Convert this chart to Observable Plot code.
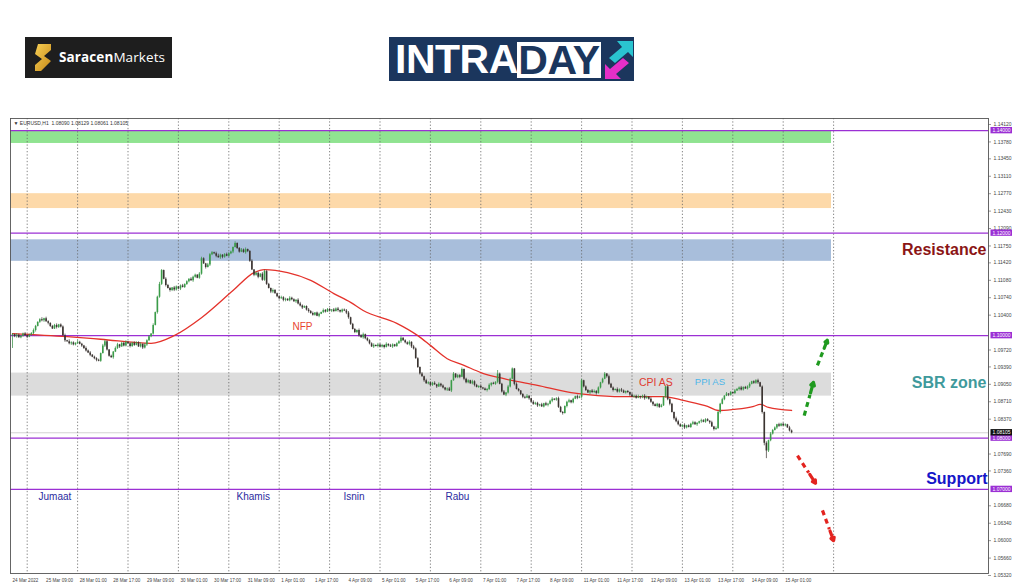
<!DOCTYPE html>
<html><head><meta charset="utf-8">
<script src="https://cdn.jsdelivr.net/npm/d3@7"></script>
<script src="https://cdn.jsdelivr.net/npm/@observablehq/plot@0.6"></script>
<style>
body{margin:0;background:#fff;width:1024px;height:587px;position:relative;overflow:hidden;font-family:"Liberation Sans",Arial,sans-serif}
#logo1{position:absolute;left:25px;top:37px;width:147px;height:41px;background:#1e1e1e}
#logo1 svg{position:absolute;left:10px;top:7px}
#logo1 .t{position:absolute;left:34px;top:0;line-height:41px;color:#fff;font-family:"Open Sans",sans-serif;font-size:13.5px;letter-spacing:0.1px}
#logo1 .t b{font-weight:700}
#logo2{position:absolute;left:389px;top:37px;width:245px;height:44px;background:#1b365d}
#logo2 .intra{position:absolute;left:6px;top:0;line-height:44px;color:#fff;font-weight:700;font-size:41px;letter-spacing:-0.5px}
#logo2 .day{position:absolute;left:128px;top:5px;width:84px;height:36px;background:#fff;color:#1b365d;font-weight:700;font-size:41px;line-height:37px;text-align:center;letter-spacing:-0.5px}
#logo2 svg{position:absolute;left:214px;top:2px}
#chart{position:absolute;left:0;top:110px}
</style></head><body>
<div id="logo1">
<svg width="16" height="27" viewBox="0 0 16 27"><defs><linearGradient id="gd" x1="0" y1="0" x2="1" y2="1"><stop offset="0" stop-color="#f7cf55"/><stop offset="1" stop-color="#c78a18"/></linearGradient></defs>
<polygon points="3,0 16,0 16,6 9,12 16,17 6,27 0,27 0,21 7,15 0,10" fill="url(#gd)"/></svg>
<div class="t"><b>Saracen</b>Markets</div>
</div>
<div id="logo2">
<div class="intra">INTRA</div>
<div class="day">DAY</div>
<svg width="32" height="42" viewBox="0 0 32 42">
<polygon points="14,2 30,2 30,18 25,13 12,24 6,19 19,8" fill="#2ac4d0"/>
<polygon points="18,40 2,40 2,25 7,30 20,19 26,24 13,35" fill="#e52fc8"/>
</svg>
</div>
<div id="chart"></div>
<script>
// ---- data (prices in pips above 1.0000) ----
const closes = [1002,998,1001,996,999,1003,1000,997,1001,1004,
1010,1018,1026,1031,1029,1033,1027,1024,1018,1013,1020,1016,1021,1017,1000,990,
988,984,986,982,985,987,983,980,975,970,966,962,958,955,952,950,
965,980,988,972,960,957,968,975,982,978,985,980,987,984,979,985,
981,986,978,983,976,982,990,998,1003,1020,1045,1075,1100,1127,
1110,1098,1092,1088,1093,1089,1095,1091,1097,1094,1100,
1105,1110,1107,1114,1118,1112,1120,1150,1140,1133,1138,1158,1162,1160,1155,
1152,1157,1153,1158,1155,1160,1163,1172,1180,1170,1163,1167,1162,1168,1164,
1145,1128,1118,1122,1114,1120,1108,1125,1100,1092,1085,1088,1082,
1076,1072,1074,1069,1071,1068,1073,1070,1066,1069,1062,1058,1054,1057,1050,1047,
1043,1040,1044,1038,1042,1045,1049,1046,1051,1048,1050,1047,1052,1049,1046,1050,1048,1044,
1035,1022,1012,1006,1010,1000,996,1002,994,990,984,978,981,
979,982,978,981,977,983,980,978,982,979,984,988,995,990,986,983,987,978,974,
955,938,925,920,912,906,908,903,907,904,900,905,902,898,894,896,892,
912,925,918,922,919,934,915,908,912,906,910,903,899,901,898,896,893,895,
903,907,905,909,925,905,890,884,888,900,915,935,905,895,892,
885,880,878,882,877,870,866,868,863,865,861,867,864,866,872,876,874,877,
860,850,848,862,870,873,869,876,881,878,880,912,
900,893,888,892,889,891,887,898,908,915,925,920,905,898,893,895,890,894,
892,888,891,889,884,880,882,878,881,879,882,877,880,876,
870,865,862,866,860,863,880,900,875,866,850,838,832,
826,822,825,820,824,821,827,830,826,829,832,834,831,836,833,830,822,817,819,
850,866,875,882,886,884,889,887,892,895,898,894,899,896,900,905,910,907,912,908,900,
850,790,775,795,808,815,820,826,823,827,824,826,820,814,810.5];
const hiWick = [2,1,3,2,1,2,3,1,2,2, 3,2,1,2,4,1,3,2,1,2, 2,3,1,2,2,3,1,4,2,2, 1,3,2,2,1,3,2,3,1,2,
2,2,1,3,3,2,1,2,1,3, 3,1,2,2,3,1,2,2,3,2, 2,3,1,3,2,2,1,3,1,2, 4,2,1,3,2,2,1,3,2,1,
2,3,1,2,1,3,2,2,1,3, 3,2,1,3,2,2,1,3,4,2, 1,2,3,2,2,1,3,1,2,3, 2,3,1,2,3,1,2,2,1,3,
3,2,2,1,3,2,1,2,3,2, 2,1,3,2,2,1,3,3,2,1, 1,3,2,3,1,2,2,1,3,2, 2,2,1,3,2,3,1,2,2,3,
3,1,2,2,1,3,2,3,1,2, 2,2,3,1,3,2,2,1,3,1, 3,2,1,2,2,3,1,2,2,3, 1,3,2,2,1,3,1,3,2,2,
2,3,1,3,2,2,1,2,3,1, 3,1,2,2,3,1,2,2,1,3, 2,2,1,3,1,2,2,3,1,2, 1,7,2,2,3,1,3,2,2,1,
3,2,1,2,2,3,1,1,3,2, 2,1,3,1,3,2,2,3,1,2, 3,2,2,1,2,3,1,2,1,3, 2,3,1,2,2,1,3,3,2,2,
1,2,3,1,3,2,2,1,3,2, 3,2,1,2,1,3,2,2,3,1, 2,3,2,1,3,1,2,2,1,3, 1,2,3,2,2,1,3,3,2,1,
3,1,2,2,3,2,1,1,3,2, 2,2,1,3,1,3,2,2,3,1, 3,1,2,1,3,2,2,3,1,2, 2,3,1,2,2,3,1,2,1,3,
1,3,2,2,1,3,2,2,2,1, 3,2];
const loWick = [25,2,3,1,2,2,1,3,1,2, 2,3,1,2,2,3,1,3,2,1, 1,3,2,2,1,3,1,2,3,2, 2,2,1,3,2,2,1,3,1,2,
3,1,2,1,3,2,2,1,3,1, 2,3,1,2,2,1,3,2,2,1, 1,2,3,2,3,1,2,2,1,3, 2,2,1,3,1,3,2,3,2,1,
3,1,2,2,2,1,3,2,1,2, 2,1,3,1,3,2,2,3,1,3, 3,2,1,2,2,3,1,2,2,1, 1,3,2,2,1,3,2,3,1,2,
2,2,1,3,3,1,2,2,1,3, 3,1,2,2,1,3,2,2,3,1, 2,3,1,2,2,1,3,1,2,2, 1,2,3,2,1,3,2,2,1,3,
3,2,1,2,2,3,1,3,2,2, 2,1,3,1,3,2,2,3,1,2, 1,3,2,2,1,3,1,2,2,3, 3,2,1,2,2,1,3,1,2,2,
2,1,3,1,3,2,2,3,1,3, 1,2,2,3,1,3,2,2,1,2, 3,1,2,2,2,1,3,2,3,1, 2,3,1,2,1,3,2,2,1,3,
1,2,2,3,2,1,3,1,2,2, 3,2,1,2,2,3,1,3,1,2, 2,1,3,1,3,2,2,2,1,3, 1,3,2,2,1,3,2,2,3,1,
2,2,1,3,2,1,3,1,2,2, 3,1,2,2,3,1,2,2,1,3, 2,3,1,2,2,3,1,3,2,1, 1,2,2,3,1,3,2,2,1,2,
3,2,1,2,2,1,3,2,3,1, 2,1,3,1,3,2,2,3,1,2, 1,3,2,2,2,1,3,2,2,1, 2,3,1,2,2,3,1,3,5,15,
3,2,2,1,3,2,1,2,2,1, 2,2];
const maBar = [0,26,42,66,77,90,105,115,120,131,142,153,161,167,183,193,199,207,215,223,234,250,266,274,290,310,320,331,336,343,353,356,360,371];
const maPip = [1004,998,993,985,1000,1035,1088,1123,1129,1123,1108,1082,1065,1049,1024,1000,981,955,942,928,916,903,889,885,881,881,873,862,854,856,862,866,860,854];
const daySeparatorBars = [7,31,55,79,103,127,151,175,199,223,247,271,295,319,343,367,391];
const timeLabels = ["24 Mar 2022","25 Mar 09:00","28 Mar 01:00","28 Mar 17:00","29 Mar 09:00","30 Mar 01:00","30 Mar 17:00","31 Mar 09:00","1 Apr 01:00","1 Apr 17:00","4 Apr 09:00","5 Apr 01:00","5 Apr 17:00","6 Apr 09:00","7 Apr 01:00","7 Apr 17:00","8 Apr 09:00","11 Apr 01:00","11 Apr 17:00","12 Apr 09:00","13 Apr 01:00","13 Apr 17:00","14 Apr 09:00","15 Apr 01:00"];
const priceTickLabels = ["1.14120","1.13780","1.13450","1.13110","1.12770","1.12430","1.12090","1.11750","1.11420","1.11080","1.10740","1.10400","1.09720","1.09390","1.09050","1.08710","1.08370","1.07690","1.07360","1.06680","1.06340","1.06000","1.05660","1.05320"];
const levelLabels = ["1.14000","1.12000","1.10000","1.08000","1.07000"];
const bidLabel = "1.08105";
const zoneTop = [1.1400,1.1277,1.1187,1.0927];
const zoneBottom = [1.1375,1.1248,1.1145,1.0882];
const zoneEndBar = 390;
const dayNames = ["Jumaat","Khamis","Isnin","Rabu"];
const dayNameBars = [12.4,106.7,157.6,206.2];
const dayNamePrice = 1.0686;
const upArrows = [{x1:377,y1:1.0844,x2:381.4,y2:1.0909},{x1:383.3,y1:1.0942,x2:388,y2:1.0991}];
const downArrows = [{x1:373.8,y1:1.0766,x2:382.4,y2:1.0712},{x1:385.7,y1:1.0659,x2:391,y2:1.0600}];
const header = "▼ EURUSD,H1  1.08090 1.08129 1.08061 1.08105";

// ---- build tables ----
const P = p => 1 + p / 10000;
const bars = closes.map((c, i) => {
  const o = i ? closes[i - 1] : 1000;
  return {i, open: P(o), close: P(c), high: P(Math.max(o, c) + hiWick[i]), low: P(Math.min(o, c) - loWick[i]), up: c >= o};
});
const ma = maBar.map((b, k) => ({i: b, v: P(maPip[k])}));

// pixel geometry of the MT4 window
const W = 1024, H = 477, bar0 = 12, pxBar = 2.1;
const pxToBar = px => (px - bar0) / pxBar;
const pyToPrice = py => 1.1412 - (py + 110 - 124) / 5125;
const leftB = pxToBar(10), axisB = pxToBar(988);
const topP = pyToPrice(8), botP = pyToPrice(463);

const levels = levelLabels.map(Number);
const zones = zoneTop.map((t, k) => ({t, b: zoneBottom[k], k}));
const zoneFill = ["#90e391", "#fdd9a9", "#a8bedb", "#dcdcdc"];
const bid = +bidLabel;
const boxH = 0.00062;
const boxX1 = pxToBar(990.5), boxX2 = pxToBar(1012);

function shaft(a){const f=0.62;return {x1:a.x1,y1:a.y1,x2:a.x1+(a.x2-a.x1)*f,y2:a.y1+(a.y2-a.y1)*f};}
function head(a){const f=0.68;return {x1:a.x1+(a.x2-a.x1)*f,y1:a.y1+(a.y2-a.y1)*f,x2:a.x2,y2:a.y2};}

const chart = Plot.plot({
  width: W, height: H,
  marginLeft: 10, marginRight: 36, marginTop: 8, marginBottom: 14,
  x: {type: "linear", domain: [leftB, axisB], axis: null},
  y: {type: "linear", domain: [botP, topP], axis: null},
  style: {fontFamily: "'Liberation Sans', Arial, sans-serif", background: "transparent", overflow: "visible"},
  marks: [
    Plot.rect(zones, {x1: () => leftB, x2: () => zoneEndBar, y1: "t", y2: "b", fill: d => zoneFill[d.k]}),
    Plot.ruleY([bid], {x1: leftB, x2: axisB, stroke: "#c8c8c8", strokeWidth: 0.8}),
    Plot.ruleX(daySeparatorBars, {y1: topP, y2: botP, stroke: "#666", strokeWidth: 0.8, strokeDasharray: "1.3,2"}),
    Plot.ruleY(levels, {x1: leftB, x2: axisB, stroke: "#9b30d4", strokeWidth: 1.4}),
    Plot.line(ma, {x: "i", y: "v", stroke: "#e4322b", strokeWidth: 1.3, curve: "monotone-x"}),
    Plot.ruleX(bars, {x: "i", y1: "low", y2: "high", stroke: d => d.up ? "#2f8a3c" : "#3b3431", strokeWidth: 0.7}),
    Plot.ruleX(bars, {x: "i", y1: "open", y2: "close", stroke: d => d.up ? "#3a9c48" : "#3b3431", strokeWidth: 1.6}),
    Plot.frame({stroke: "#555", strokeWidth: 0.9}),
    Plot.text([header], {frameAnchor: "top-left", dx: 3, dy: 3, fontSize: 5, fill: "#333"}),
    Plot.ruleY(priceTickLabels.map(Number), {x1: axisB, x2: pxToBar(991), stroke: "#555", strokeWidth: 0.6}),
    Plot.text(priceTickLabels, {x: pxToBar(993), y: d => +d, text: d => d, textAnchor: "start", fontSize: 5, fill: "#444"}),
    Plot.rect(levels, {x1: boxX1, x2: boxX2, y1: d => d - boxH, y2: d => d + boxH, fill: "#9b30d4"}),
    Plot.text(levelLabels, {x: pxToBar(992), y: d => +d, text: d => d, textAnchor: "start", fontSize: 5, fill: "#fff"}),
    Plot.rect([bid], {x1: boxX1, x2: boxX2, y1: d => d - boxH, y2: d => d + boxH, fill: "#111"}),
    Plot.text([bidLabel], {x: pxToBar(992), y: d => +d + 0.00005, text: d => d, textAnchor: "start", fontSize: 5, fill: "#fff"}),
    Plot.text(timeLabels, {x: (d, k) => k * 16, y: pyToPrice(470), text: d => d, textAnchor: "start", fontSize: 4.6, fill: "#444"}),
    Plot.text(dayNames, {x: (d, k) => dayNameBars[k], y: dayNamePrice, text: d => d, textAnchor: "start", fontSize: 10, fill: "#2b2ba0"}),
    Plot.text(["NFP"], {x: 138.1, y: 1.1018, text: d => d, fontSize: 10, fill: "#e8452f"}),
    Plot.text(["CPI AS"], {x: 306.4, y: 1.0909, text: d => d, fontSize: 10.5, fill: "#e03a30"}),
    Plot.text(["PPI AS"], {x: 332.1, y: 1.0909, text: d => d, fontSize: 9.5, fill: "#4db5e8"}),
    Plot.text(["Resistance"], {x: pxToBar(986), y: 1.1168, text: d => d, textAnchor: "end", fontSize: 16, fontWeight: "bold", fill: "#8b1515"}),
    Plot.text(["SBR zone"], {x: pxToBar(986), y: 1.0907, text: d => d, textAnchor: "end", fontSize: 16, fontWeight: "bold", fill: "#3f9a9c"}),
    Plot.text(["Support"], {x: pxToBar(987), y: 1.0721, text: d => d, textAnchor: "end", fontSize: 16, fontWeight: "bold", fill: "#1515c8"}),
    Plot.link(upArrows.map(shaft), {x1: "x1", y1: "y1", x2: "x2", y2: "y2", stroke: "#1f9a1f", strokeWidth: 3.2, strokeDasharray: "5,4"}),
    Plot.arrow(upArrows.map(head), {x1: "x1", y1: "y1", x2: "x2", y2: "y2", stroke: "#1f9a1f", strokeWidth: 3.2, headLength: 9}),
    Plot.link(downArrows.map(shaft), {x1: "x1", y1: "y1", x2: "x2", y2: "y2", stroke: "#e3231f", strokeWidth: 3.2, strokeDasharray: "5,4"}),
    Plot.arrow(downArrows.map(head), {x1: "x1", y1: "y1", x2: "x2", y2: "y2", stroke: "#e3231f", strokeWidth: 3.2, headLength: 9})
  ]
});
document.getElementById("chart").appendChild(chart);
</script>
</body></html>
